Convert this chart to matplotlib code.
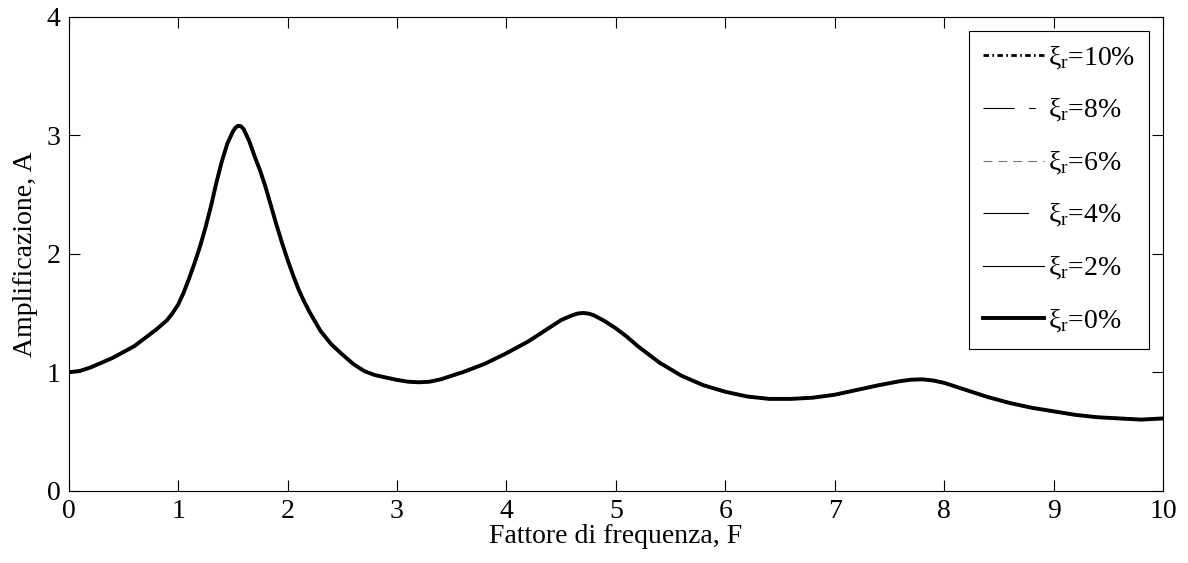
import numpy as np
import matplotlib
matplotlib.use("Agg")
import matplotlib.pyplot as plt

# valori (curve praticamente sovrapposte)
freq = [0.0, 0.1, 0.2, 0.3, 0.4, 0.5, 0.6, 0.7, 0.8, 0.9, 0.95, 1.0, 1.05, 1.1,
        1.15, 1.2, 1.25, 1.3, 1.35, 1.4, 1.45, 1.5, 1.525, 1.55, 1.575, 1.6,
        1.65, 1.7, 1.75, 1.8, 1.85, 1.9, 1.95, 2.0, 2.05, 2.1, 2.15, 2.2, 2.3,
        2.4, 2.5, 2.6, 2.7, 2.8, 2.9, 3.0, 3.1, 3.2, 3.3, 3.4, 3.6, 3.8, 4.0,
        4.2, 4.4, 4.5, 4.6, 4.65, 4.7, 4.75, 4.8, 4.9, 5.0, 5.1, 5.2, 5.4, 5.6,
        5.8, 6.0, 6.2, 6.4, 6.6, 6.8, 7.0, 7.2, 7.4, 7.6, 7.7, 7.8, 7.9, 8.0,
        8.2, 8.4, 8.6, 8.8, 9.0, 9.2, 9.4, 9.6, 9.8, 10.0]
ampl = [1.00, 1.01, 1.04, 1.08, 1.12, 1.17, 1.22, 1.29, 1.36, 1.44, 1.50, 1.57,
        1.67, 1.79, 1.92, 2.06, 2.22, 2.40, 2.60, 2.78, 2.93, 3.03, 3.065,
        3.08, 3.075, 3.05, 2.95, 2.82, 2.70, 2.56, 2.40, 2.24, 2.09, 1.95, 1.82,
        1.70, 1.60, 1.51, 1.35, 1.235, 1.15, 1.07, 1.01, 0.975, 0.955, 0.935,
        0.92, 0.915, 0.92, 0.94, 1.00, 1.07, 1.16, 1.26, 1.38, 1.44, 1.48,
        1.495, 1.50, 1.495, 1.48, 1.43, 1.37, 1.30, 1.22, 1.08, 0.97, 0.89,
        0.835, 0.795, 0.775, 0.775, 0.785, 0.81, 0.85, 0.89, 0.925, 0.937, 0.94,
        0.93, 0.91, 0.85, 0.79, 0.74, 0.70, 0.67, 0.64, 0.62, 0.61, 0.60, 0.61]

labels = ["10", "8", "6", "4", "2", "0"]

plt.rcParams["font.family"] = ["Liberation Serif", "DejaVu Serif"]
plt.rcParams["mathtext.fontset"] = "custom"
plt.rcParams["mathtext.rm"] = "Liberation Serif"
plt.rcParams["mathtext.it"] = "Liberation Serif"

fig = plt.figure(figsize=(11.88, 5.63), dpi=100)
ax = fig.add_axes([0.0578, 0.1284, 0.9212, 0.8419])

styles = [
    dict(color="black", lw=2.0, dashes=(2.0, 1.2, 0.6, 1.2)),
    dict(color="black", lw=0.8, dashes=(28, 13, 6, 13)),
    dict(color="#777777", lw=0.8, dashes=(8, 5.4)),
    dict(color="black", lw=0.8, dashes=(41, 30)),
    dict(color="black", lw=0.8, ls="-"),
    dict(color="black", lw=2.8, ls="-"),
]

for lab, st in zip(labels, styles):
    ax.plot(freq, ampl, label=r"$\xi_{\mathrm{r}}$=" + lab + "%",
            solid_joinstyle="round", **st)

ax.set_xlim(0, 10)
ax.set_ylim(0, 4)
ax.set_xticks(range(0, 11))
ax.set_yticks(range(0, 5))
ax.tick_params(direction="in", length=8, width=0.8, top=True, right=True,
               labelsize=20, pad=6)
for sp in ax.spines.values():
    sp.set_linewidth(0.8)

ax.set_xlabel("Fattore di frequenza, F", fontsize=20, labelpad=0)
ax.set_ylabel("Amplificazione, A", fontsize=20, labelpad=6)

leg = ax.legend(loc="upper right", fontsize=20, fancybox=False, framealpha=1,
                edgecolor="black", handlelength=2.2, handletextpad=0.15,
                labelspacing=0.92, borderaxespad=0.5, borderpad=0.5)
leg.get_frame().set_linewidth(0.8)

fig.savefig("out.png", dpi=100)
